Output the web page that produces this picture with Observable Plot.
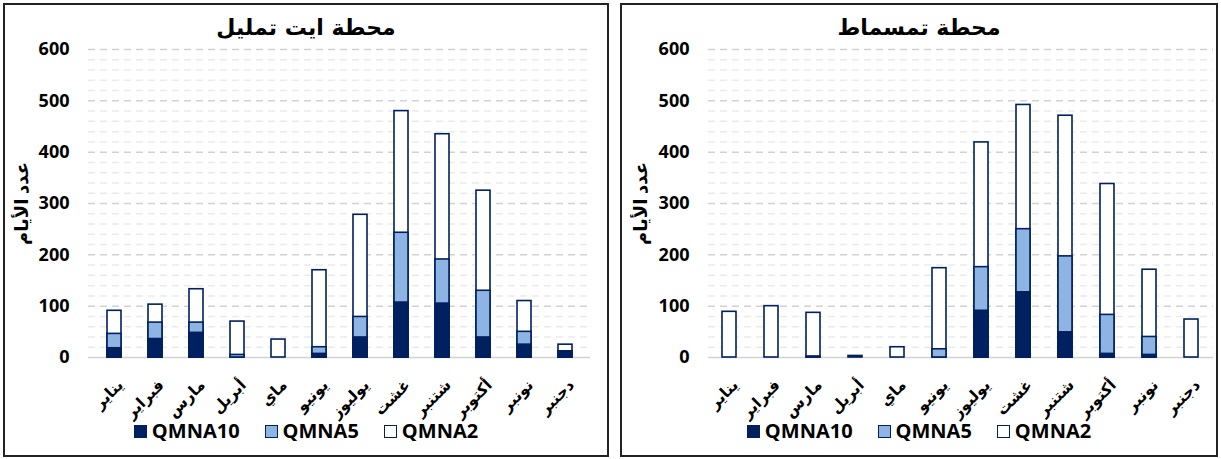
<!DOCTYPE html>
<html><head><meta charset="utf-8">
<script src="https://cdn.jsdelivr.net/npm/d3@7"></script>
<script src="https://cdn.jsdelivr.net/npm/@observablehq/plot@0.6"></script>
<style>
body{margin:0;background:#fff;font-family:"Open Sans","DejaVu Sans",sans-serif;}
.panel{position:absolute;top:3px;height:454px;box-sizing:border-box;border:2px solid #222;background:#fff;}
.title{text-align:center;font-weight:bold;font-size:22px;line-height:26px;padding-top:10px;height:26px;font-family:"DejaVu Sans",sans-serif;}
.legend{display:flex;justify-content:center;gap:25px;margin-top:3px;line-height:24px;font-weight:bold;font-size:20px;font-family:"Open Sans",sans-serif;}
.legend span.sw{display:inline-block;width:11px;height:11px;border:1.5px solid #002060;margin-right:5px;vertical-align:0px;}
svg{overflow:visible;}
</style></head>
<body>
<div id="p1" class="panel" style="left:3px;width:606px;"></div>
<div id="p2" class="panel" style="left:620px;width:598px;"></div>
<script>
const months = ["يناير","فبراير","مارس","أبريل","ماي","يونيو","يوليوز","غشت","شتنبر","أكتوبر","نونبر","دجنبر"];
const seriesNames = ["QMNA10","QMNA5","QMNA2"];
const yTicks = [0,100,200,300,400,500,600];
const minorTicks = [20,40,60,80,120,140,160,180,220,240,260,280,320,340,360,380,420,440,460,480,520,540,560,580];

// Station Ait Tamlil (days, cumulative: QMNA10 <= QMNA5 <= QMNA2)
const title1 = "محطة ايت تمليل";
const ait_qmna10 = [18, 36, 48, 0, 0, 7, 39, 107, 105, 39, 25, 12];
const ait_qmna5  = [46, 68, 68, 5, 0, 20, 79, 243, 191, 130, 50, 12];
const ait_qmna2  = [91, 103, 133, 70, 35, 170, 278, 480, 435, 325, 110, 25];

// Station Tamsmat
const title2 = "محطة تمسماط";
const tam_qmna10 = [0, 0, 0, 0, 0, 0, 91, 127, 49, 7, 5, 0];
const tam_qmna5  = [0, 0, 2, 0, 0, 16, 176, 250, 197, 83, 40, 0];
const tam_qmna2  = [89, 100, 87, 3, 20, 174, 419, 492, 471, 338, 171, 74];

const colors = {QMNA10:"#002060", QMNA5:"#8EB4E3", QMNA2:"#ffffff"};
const navy = "#002060";
const yLabel = "عدد الأيام";

function rows(vals){ return months.map((m,i)=>({month:m, value:vals[i]})); }

function chart(el, title, q10, q5, q2, opts){
  const t = document.createElement("div"); t.className="title"; t.textContent=title; el.appendChild(t);
  const svg = Plot.plot({
    width: opts.width, height: 375,
    marginLeft: opts.ml, marginRight: opts.mr, marginTop: 8, marginBottom: 59,
    style:{fontFamily:'"Open Sans","DejaVu Sans",sans-serif', fontSize:"16px", fontWeight:"bold", color:"#000", overflow:"visible"},
    x:{domain: months, paddingInner:0.66, paddingOuter:0.33},
    y:{domain:[0,600]},
    marks:[
      Plot.ruleY(minorTicks, {stroke:"#ebebeb", strokeWidth:1.5, strokeDasharray:"7,5"}),
      Plot.ruleY(yTicks.filter(d=>d>0), {stroke:"#d2d2d2", strokeWidth:1.5, strokeDasharray:"7,5"}),
      Plot.ruleY([0], {stroke:"#d2d2d2", strokeWidth:1.5}),
      Plot.barY(rows(q2), {x:"month", y:"value", fill:colors.QMNA2, stroke:navy, strokeWidth:1.6}),
      Plot.barY(rows(q5).filter(d=>d.value>0), {x:"month", y:"value", fill:colors.QMNA5, stroke:navy, strokeWidth:1.6}),
      Plot.barY(rows(q10).filter(d=>d.value>0), {x:"month", y:"value", fill:colors.QMNA10, stroke:navy, strokeWidth:1.6}),
      Plot.axisY({ticks: yTicks, tickSize:0, tickPadding:19, fontSize:18, label: yLabel, labelAnchor:"center", labelArrow:"none", labelOffset: opts.lo}),
      Plot.axisX({label:null, tickSize:0, tickRotate:-45, tickPadding:8, fontSize:15.5, dx:6, dy:17})
    ]
  });
  svg.querySelectorAll("text").forEach(n=>{n.setAttribute("font-weight","bold");});
  el.appendChild(svg);
  const lg = document.createElement("div"); lg.className="legend";
  seriesNames.forEach(s=>{
    const it=document.createElement("div");
    it.innerHTML=`<span class="sw" style="background:${colors[s]}"></span>${s}`;
    lg.appendChild(it);
  });
  el.appendChild(lg);
}
chart(document.getElementById("p1"), title1, ait_qmna10, ait_qmna5, ait_qmna2, {width:602, ml:83, mr:17, lo:73});
chart(document.getElementById("p2"), title2, tam_qmna10, tam_qmna5, tam_qmna2, {width:594, ml:86, mr:3, lo:74});
</script>
</body></html>
